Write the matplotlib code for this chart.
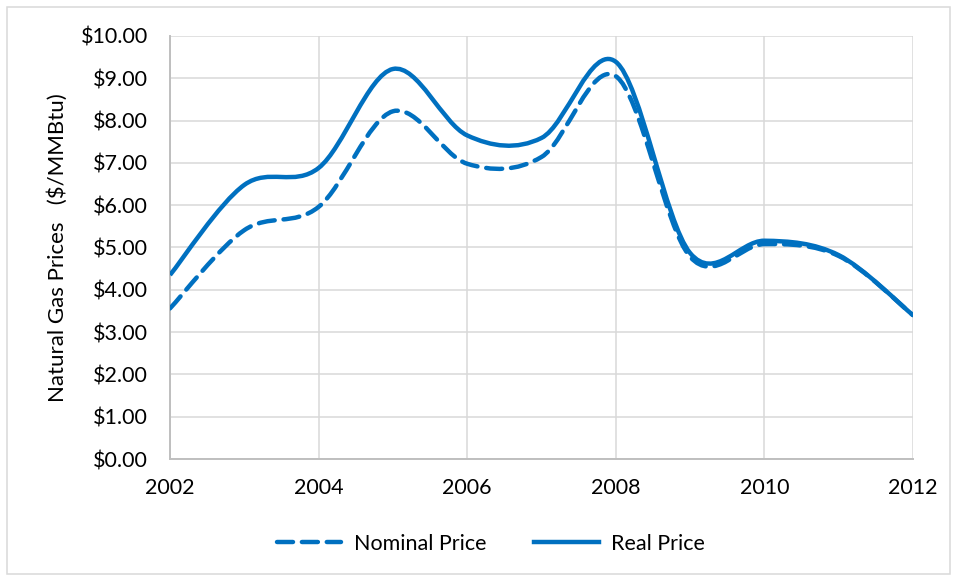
import numpy as np
import matplotlib.pyplot as plt
from matplotlib.path import Path
from matplotlib.patches import PathPatch, Rectangle
from matplotlib.lines import Line2D
from matplotlib.ticker import FuncFormatter, MultipleLocator

plt.switch_backend("Agg")
plt.rcParams["font.family"] = ["Lato", "DejaVu Sans"]

# annual natural gas prices ($/MMBtu)
years = [2002, 2003, 2004, 2005, 2006, 2007, 2008, 2009, 2010, 2011, 2012]
nominal_price = [3.56, 5.41, 5.96, 8.22, 6.98, 7.14, 9.05, 4.78, 5.08, 4.80, 3.40]
real_price = [4.35, 6.48, 6.88, 9.22, 7.65, 7.59, 9.39, 4.87, 5.16, 4.82, 3.40]

BLUE = "#0070C0"
GRID = "#D9D9D9"
AXIS = "#BFBFBF"
FS = 15.5


def smooth_path(xs, ys):
    """Excel-style smoothed line: cubic Bezier through every point."""
    n = len(xs)
    verts = [(xs[0], ys[0])]
    codes = [Path.MOVETO]
    for i in range(n - 1):
        i0 = max(i - 1, 0)
        i3 = min(i + 2, n - 1)
        c1 = (xs[i] + (xs[i + 1] - xs[i0]) / 6, ys[i] + (ys[i + 1] - ys[i0]) / 6)
        c2 = (xs[i + 1] - (xs[i3] - xs[i]) / 6, ys[i + 1] - (ys[i3] - ys[i]) / 6)
        verts += [c1, c2, (xs[i + 1], ys[i + 1])]
        codes += [Path.CURVE4] * 3
    return Path(verts, codes)


def main():
    fig = plt.figure(figsize=(9.57, 5.81), dpi=100)
    ax = fig.add_axes([170 / 957, 1 - 459 / 581, (913 - 170) / 957, (459 - 36) / 581])

    dash = (0, (3.6, 2.0))
    lw = 3.2
    nom = PathPatch(smooth_path(years, nominal_price), fill=False, edgecolor=BLUE,
                    lw=lw, linestyle=dash, capstyle="round", joinstyle="round", zorder=3)
    real = PathPatch(smooth_path(years, real_price), fill=False, edgecolor=BLUE,
                     lw=lw, linestyle="-", capstyle="butt", joinstyle="round", zorder=4)
    ax.add_patch(nom)
    ax.add_patch(real)

    ax.set_xlim(2002, 2012)
    ax.set_ylim(0, 10)
    ax.xaxis.set_major_locator(MultipleLocator(2))
    ax.yaxis.set_major_locator(MultipleLocator(1))
    ax.yaxis.set_major_formatter(FuncFormatter(lambda v, p: f"${v:.2f}"))
    ax.tick_params(length=0, labelsize=FS, colors="black")
    ax.tick_params(axis="y", pad=16)
    ax.tick_params(axis="x", pad=14)

    ax.grid(True, color=GRID, lw=1.1, zorder=0)
    ax.set_axisbelow(True)
    for s in ["top", "right"]:
        ax.spines[s].set_visible(False)
    for s in ["left", "bottom"]:
        ax.spines[s].set_color(AXIS)
        ax.spines[s].set_linewidth(1.4)

    ax.set_ylabel("Natural Gas Prices   ($/MMBtu)", fontsize=FS + 0.5, labelpad=9)

    handles = [
        Line2D([], [], color=BLUE, lw=lw, linestyle=dash, dash_capstyle="round"),
        Line2D([], [], color=BLUE, lw=lw, linestyle="-"),
    ]
    fig.legend(handles, ["Nominal Price", "Real Price"], loc="center",
               bbox_to_anchor=(491 / 957, 1 - 544 / 581), ncol=2, frameon=False,
               fontsize=FS, handlelength=3.0, handletextpad=0.6, columnspacing=2.2)

    # light frame around the whole chart
    fig.patches.append(Rectangle((7 / 957, 7 / 581), 943 / 957, 567 / 581,
                                 transform=fig.transFigure, fill=False,
                                 edgecolor=GRID, lw=1.1))

    fig.savefig("out.png", dpi=100)
    plt.close(fig)


if __name__ == "__main__":
    main()
